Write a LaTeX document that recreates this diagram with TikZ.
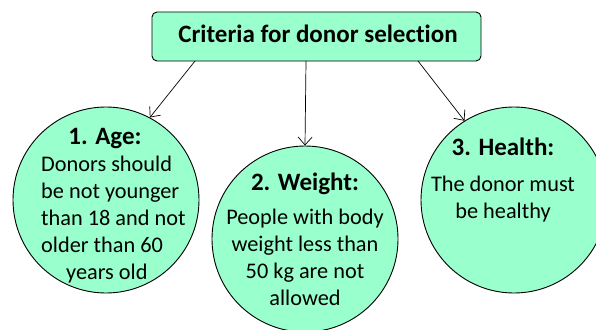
\documentclass[tikz,border=0pt]{standalone}
\usepackage{fontspec}
\setmainfont{Carlito}[Ligatures=NoCommon]
\usetikzlibrary{arrows.meta}
\definecolor{mint}{HTML}{99FFCC}
\begin{document}
\begin{tikzpicture}[x=1pt,y=-1pt,
  crit/.style={circle,draw=black,line width=0.9pt,fill=mint,minimum size=186pt,inner sep=0pt},
  topbox/.style={draw=black,line width=0.9pt,fill=mint,rounded corners=5pt,minimum width=329pt,minimum height=49pt,inner sep=0pt},
  head/.style={font=\fontsize{25}{30}\selectfont\bfseries},
  body/.style={font=\fontsize{22.3}{27}\selectfont},
  conn/.style={-{Straight Barb[length=8pt,width=14pt]},line width=0.7pt}]
\useasboundingbox (0,0) rectangle (596,329);
\begin{scope}
\clip (0,0) rectangle (596,329);
\node[topbox] (top) at (316.5,36.5) {};
\node[head] (toptext) at (318,34) {Criteria for donor selection};
\node[crit] (c1) at (106,200) {};
\node[crit] (c2) at (305,239) {};
\node[crit] (c3) at (514,200) {};
\node[head] (h1) at (105,138) {1. Age:};
\node[body,align=left,anchor=north west,inner sep=0pt] (t1) at (41,156) {Donors should\\be not younger\\than 18 and not\\older than 60\\\hspace*{25pt}years old};
\node[head] (h2) at (305,184) {2. Weight:};
\node[body,align=center,anchor=north,inner sep=0pt] (t2) at (305,209) {People with body\\weight less than\\50 kg are not\\allowed};
\node[head] (h3) at (503,147) {3. Health:};
\node[body,align=center,anchor=north,inner sep=0pt] (t3) at (503,176) {The donor must\\be healthy};
\coordinate (s1) at (195,61);
\coordinate (s2) at (306,61);
\coordinate (s3) at (418,61);
\draw[conn] (s1) -- (c1.62);
\draw[conn] (s2) -- (c2.north);
\draw[conn] (s3) -- (c3.122);
\end{scope}
\end{tikzpicture}
\end{document}
